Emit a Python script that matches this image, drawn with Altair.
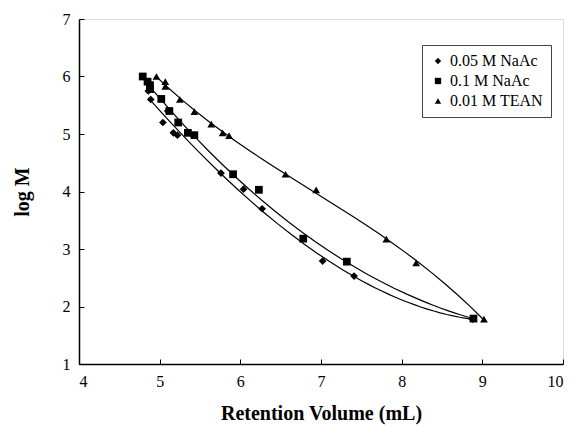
import altair as alt
import pandas as pd

series_names = ["0.05 M NaAc", "0.1 M NaAc", "0.01 M TEAN"]

naac005_x = [4.86, 4.89, 5.10, 5.04, 5.17, 5.22, 5.76, 6.04, 6.27, 7.02, 7.41, 8.88]
naac005_y = [5.75, 5.60, 5.40, 5.20, 5.02, 4.98, 4.32, 4.04, 3.70, 2.79, 2.53, 1.78]

naac01_x = [4.79, 4.85, 4.88, 4.88, 5.02, 5.12, 5.23, 5.35, 5.43, 5.91, 6.23, 6.78, 7.32, 8.89]
naac01_y = [6.00, 5.91, 5.85, 5.78, 5.61, 5.40, 5.20, 5.02, 4.98, 4.30, 4.03, 3.18, 2.78, 1.79]

tean_x = [4.96, 5.07, 5.07, 5.25, 5.43, 5.64, 5.78, 5.86, 6.56, 6.94, 7.81, 8.18, 9.02]
tean_y = [6.00, 5.91, 5.83, 5.60, 5.39, 5.17, 5.02, 4.97, 4.30, 4.03, 3.17, 2.76, 1.78]

rows = []
for name, xs, ys in zip(series_names, [naac005_x, naac01_x, tean_x], [naac005_y, naac01_y, tean_y]):
    for a, b in zip(xs, ys):
        rows.append({"series": name, "vol": a, "logM": b})
df = pd.DataFrame(rows)

FONT = "Liberation Serif"

xscale = alt.Scale(domain=[4, 10], nice=False, zero=False)
yscale = alt.Scale(domain=[1, 7], nice=False, zero=False)

xaxis = alt.Axis(title="Retention Volume (mL)", values=[4, 5, 6, 7, 8, 9, 10], format="d",
                 grid=False, tickSize={"expr": "-5"}, tickColor="black", domainColor="black",
                 domainWidth=1.5, labelPadding=14, titlePadding=14,
                 labelFont=FONT, labelFontSize=16, labelColor="black",
                 titleFont=FONT, titleFontSize=20, titleFontWeight="bold", titleColor="black")
yaxis = alt.Axis(title="log M", values=[1, 2, 3, 4, 5, 6, 7], format="d",
                 grid=False, tickSize={"expr": "-5"}, tickColor="black", domainColor="black",
                 domainWidth=1.5, labelPadding=14, titlePadding=30,
                 labelFont=FONT, labelFontSize=16, labelColor="black",
                 titleFont=FONT, titleFontSize=20, titleFontWeight="bold", titleColor="black")

points = alt.Chart(df).mark_point(filled=True, color="black", opacity=1, size=60).encode(
    x=alt.X("vol:Q", scale=xscale, axis=xaxis),
    y=alt.Y("logM:Q", scale=yscale, axis=yaxis),
    shape=alt.Shape("series:N",
                    scale=alt.Scale(domain=series_names, range=["diamond", "square", "triangle-up"]),
                    legend=alt.Legend(title=None, orient="none", legendX=343, legendY=26,
                                      fillColor="white", strokeColor="#444", padding=8,
                                      labelFont=FONT, labelFontSize=16, labelColor="black",
                                      symbolSize=40, symbolFillColor="black",
                                      symbolStrokeColor="black",
                                      rowPadding=4, labelOffset=4)),
)

lines = alt.Chart(df).transform_regression(
    "vol", "logM", groupby=["series"], method="poly", order=3
).mark_line(color="black", strokeWidth=1.2).encode(
    x=alt.X("vol:Q", scale=xscale),
    y=alt.Y("logM:Q", scale=yscale),
    detail="series:N",
)

chart = alt.layer(lines, points).properties(
    width=484, height=345,
    autosize=alt.AutoSizeParams(type="none"),
    padding={"left": 79, "top": 19, "right": 11, "bottom": 70},
).configure_view(stroke="black", strokeWidth=1.5).configure(background="white")

chart.save("out.html", embed_options={"renderer": "svg", "actions": False})
